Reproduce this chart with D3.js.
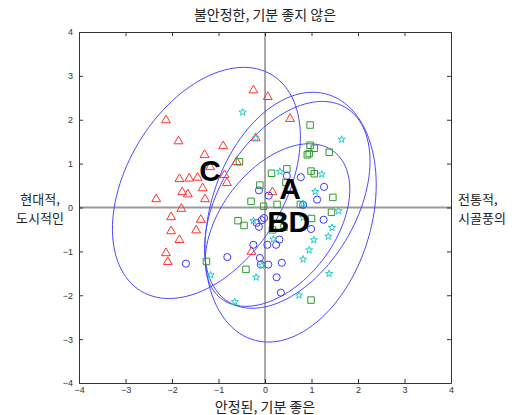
<!DOCTYPE html>
<html>
<head>
<meta charset="utf-8">
<script src="https://cdn.jsdelivr.net/npm/d3@7"></script>
<style>
  body { margin: 0; background: #fff; }
  text { font-family: "Liberation Sans", Arial, sans-serif; }
</style>
</head>
<body>
<div id="chart"></div>
<script>
// group A: green squares
const groupA = [
  [0.97, 1.88], [0.97, 1.42], [1.06, 1.35], [0.91, 1.20], [0.95, 1.23], [1.38, 1.26],
  [0.99, 0.83], [1.06, 0.77], [1.46, 0.23], [0.47, 0.88], [0.14, 0.78], [-0.11, 0.51],
  [0.45, 0.57], [-0.30, 0.14], [-0.03, 0.03], [0.76, 0.07], [1.43, -0.11], [1.00, -0.25],
  [0.41, -0.45], [0.16, -0.51], [-0.55, 1.04], [-0.58, -0.30], [-0.45, -0.41],
  [-1.26, -1.23], [-0.41, -1.41], [0.99, -2.11], [0.26, 0.07]
];
// group B: blue circles
const groupB = [
  [0.77, 0.69], [0.47, 0.72], [1.27, 0.47], [1.12, 0.18], [-0.13, 0.39], [0.08, 0.27],
  [0.82, 0.06], [1.26, -0.28], [0.99, -0.49], [-0.18, -0.35], [-0.07, -0.29], [-0.02, -0.24],
  [-0.13, -0.44], [-0.25, -0.85], [-0.81, -1.13], [0.05, -0.85], [0.24, -0.85], [0.31, -0.73],
  [-0.11, -1.15], [-0.09, -1.30], [0.07, -1.30], [0.36, -1.26], [0.25, -1.59], [0.34, -1.94],
  [-1.70, -1.28]
];
// group C: red triangles
const groupC = [
  [-2.13, 1.99], [-1.86, 1.51], [-0.25, 2.67], [0.06, 2.52], [0.54, 2.02], [-0.90, 1.40],
  [-1.30, 1.20], [-1.18, 0.92], [-0.61, 1.04], [-0.87, 0.74], [-0.82, 0.56], [-1.84, 0.65],
  [-1.63, 0.66], [-1.45, 0.68], [-1.34, 0.44], [-1.78, 0.35], [-1.66, 0.30], [-2.34, 0.19],
  [-1.29, 0.19], [-1.80, -0.03], [-2.02, -0.22], [-1.38, -0.28], [-2.02, -0.54], [-1.48, -0.52],
  [-1.84, -0.74], [-2.13, -1.04], [-2.09, -1.24], [-0.29, -1.01], [0.16, 0.35], [-0.20, 1.58]
];
// group D: cyan stars
const groupD = [
  [-0.48, 2.17], [-0.20, 1.58], [1.65, 1.55], [1.22, 0.76], [1.08, 0.36], [0.82, 0.08],
  [0.32, 0.82], [1.58, -0.08], [-0.25, -0.30], [0.39, -0.21], [0.82, -0.23], [1.44, -0.46],
  [1.36, -0.66], [1.05, -0.74], [0.18, -0.72], [0.95, -0.97], [0.82, -1.18], [-0.07, -1.32],
  [-0.19, -1.59], [1.38, -1.51], [0.73, -2.00], [-0.65, -2.15], [-1.17, -1.54]
];

// ellipses: [centerX, centerY, semi-major, semi-minor, angle in degrees]
const ellipses = [
  [-1.26, 0.56, 2.84, 1.72, 62],   // C
  [0.48, 0.06, 2.55, 1.49, 62],    // A
  [0.27, -0.40, 2.07, 1.25, 56],   // B
  [0.55, -0.22, 2.91, 1.74, 75]    // D
];

const groupLabels = ["A", "B", "C", "D"];
const labelPos = [[0.54, 0.44], [0.28, -0.31], [-1.18, 0.85], [0.74, -0.31]];

const ticks = [-4, -3, -2, -1, 0, 1, 2, 3, 4];
const titleTop = "불안정한, 기분 좋지 않은";
const titleBottom = "안정된, 기분 좋은";
const titleLeft = ["현대적,", "도시적인"];
const titleRight = ["전통적,", "시골풍의"];

const width = 520, height = 415;
const margin = { top: 32, right: 69, bottom: 32, left: 79 };

const svg = d3.select("#chart").append("svg")
  .attr("width", width)
  .attr("height", height);

const x = d3.scaleLinear().domain([-4, 4]).range([margin.left, width - margin.right]);
const y = d3.scaleLinear().domain([-4, 4]).range([height - margin.bottom, margin.top]);

// zero lines
svg.append("line")
  .attr("x1", x(-4)).attr("x2", x(4))
  .attr("y1", y(0)).attr("y2", y(0))
  .attr("stroke", "#9a9a9a").attr("stroke-width", 2);
svg.append("line")
  .attr("x1", x(0)).attr("x2", x(0))
  .attr("y1", y(-4)).attr("y2", y(4))
  .attr("stroke", "#555").attr("stroke-width", 1);

// axes, ticks pointing inward
const axisStyle = g => {
  g.select(".domain").attr("stroke", "#333");
  g.selectAll(".tick line").attr("stroke", "#333");
  g.selectAll(".tick text").attr("fill", "#333").attr("font-size", 9);
};
svg.append("g")
  .attr("transform", `translate(0,${y(-4)})`)
  .call(d3.axisBottom(x).tickValues(ticks).tickSizeInner(-4).tickSizeOuter(0).tickPadding(4))
  .call(axisStyle);
svg.append("g")
  .attr("transform", `translate(${x(-4)},0)`)
  .call(d3.axisLeft(y).tickValues(ticks).tickSizeInner(-4).tickSizeOuter(0).tickPadding(6))
  .call(axisStyle);
svg.append("g")
  .attr("transform", `translate(0,${y(4)})`)
  .call(d3.axisTop(x).tickValues(ticks).tickSizeInner(-4).tickSizeOuter(0).tickFormat(""))
  .call(axisStyle);
svg.append("g")
  .attr("transform", `translate(${x(4)},0)`)
  .call(d3.axisRight(y).tickValues(ticks).tickSizeInner(-4).tickSizeOuter(0).tickFormat(""))
  .call(axisStyle);

// ellipses
const ellipsePath = e => {
  const [cx, cy, a, b, deg] = e;
  const th = deg * Math.PI / 180;
  const pts = d3.range(0, 361, 3).map(t => {
    const r = t * Math.PI / 180;
    return [
      cx + a * Math.cos(th) * Math.cos(r) - b * Math.sin(th) * Math.sin(r),
      cy + a * Math.sin(th) * Math.cos(r) + b * Math.cos(th) * Math.sin(r)
    ];
  });
  return d3.line().x(d => x(d[0])).y(d => y(d[1]))(pts);
};
svg.append("g").selectAll("path")
  .data(ellipses)
  .join("path")
  .attr("d", ellipsePath)
  .attr("fill", "none")
  .attr("stroke", "#4a4aff")
  .attr("stroke-width", 1);

// markers
const drawGroup = (data, type, size, color) => {
  svg.append("g").selectAll("path")
    .data(data)
    .join("path")
    .attr("transform", d => `translate(${x(d[0])},${y(d[1])})`)
    .attr("d", d3.symbol().type(type).size(size))
    .attr("fill", "none")
    .attr("stroke", color)
    .attr("stroke-width", 1);
};
drawGroup(groupC, d3.symbolTriangle, 34, "#ff3333");
drawGroup(groupA, d3.symbolSquare, 42, "#2e9a2e");
drawGroup(groupB, d3.symbolCircle, 40, "#3a3aff");
drawGroup(groupD, d3.symbolStar, 16, "#22cccc");

// group letters
svg.append("g").selectAll("text")
  .data(groupLabels)
  .join("text")
  .attr("x", (d, i) => x(labelPos[i][0]))
  .attr("y", (d, i) => y(labelPos[i][1]))
  .attr("text-anchor", "middle")
  .attr("dominant-baseline", "central")
  .attr("font-size", 30)
  .attr("font-weight", "bold")
  .attr("fill", "#000")
  .text(d => d);

// titles
const tFont = "'Noto Sans CJK KR', sans-serif";
svg.append("text")
  .attr("x", x(0)).attr("y", 20)
  .attr("text-anchor", "middle")
  .attr("font-size", 14).attr("fill", "#222")
  .style("font-family", tFont)
  .text(titleTop);
svg.append("text")
  .attr("x", x(0)).attr("y", 412)
  .attr("text-anchor", "middle")
  .attr("font-size", 14).attr("fill", "#222")
  .style("font-family", tFont)
  .text(titleBottom);
svg.append("g").selectAll("text")
  .data(titleLeft)
  .join("text")
  .attr("x", 40).attr("y", (d, i) => 204 + i * 19)
  .attr("text-anchor", "middle")
  .attr("font-size", 13).attr("fill", "#222")
  .style("font-family", tFont)
  .text(d => d);
svg.append("g").selectAll("text")
  .data(titleRight)
  .join("text")
  .attr("x", 458).attr("y", (d, i) => 204 + i * 19)
  .attr("text-anchor", "start")
  .attr("font-size", 13).attr("fill", "#222")
  .style("font-family", tFont)
  .text(d => d);
</script>
</body>
</html>
